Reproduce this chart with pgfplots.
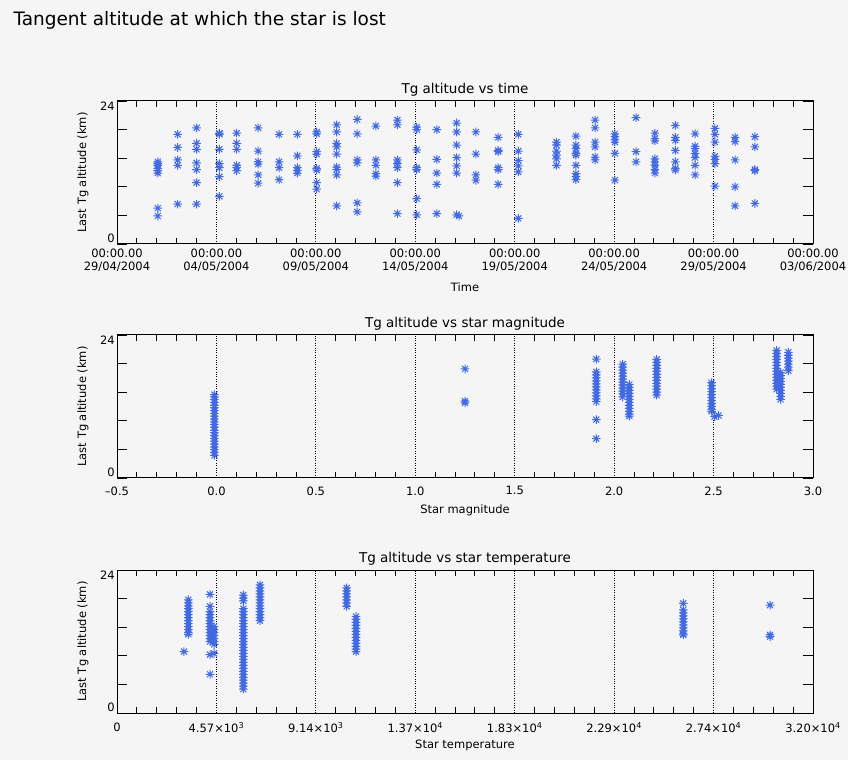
\documentclass[border=0pt]{standalone}
\usepackage{pgfplots}
\pgfplotsset{compat=1.18}
\usepackage{fontspec}
\setmainfont{DejaVu Sans}

\definecolor{idlblue}{RGB}{65,105,225}
\definecolor{bg}{RGB}{245,245,245}

% 8-armed asterisk like IDL psym=2
\pgfdeclareplotmark{ast8}{%
  \pgfpathmoveto{\pgfqpoint{-\pgfplotmarksize}{0pt}}%
  \pgfpathlineto{\pgfqpoint{\pgfplotmarksize}{0pt}}%
  \pgfpathmoveto{\pgfqpoint{0pt}{-\pgfplotmarksize}}%
  \pgfpathlineto{\pgfqpoint{0pt}{\pgfplotmarksize}}%
  \pgfpathmoveto{\pgfqpoint{-.7\pgfplotmarksize}{-.7\pgfplotmarksize}}%
  \pgfpathlineto{\pgfqpoint{.7\pgfplotmarksize}{.7\pgfplotmarksize}}%
  \pgfpathmoveto{\pgfqpoint{-.7\pgfplotmarksize}{.7\pgfplotmarksize}}%
  \pgfpathlineto{\pgfqpoint{.7\pgfplotmarksize}{-.7\pgfplotmarksize}}%
  \pgfusepathqstroke}

\pgfplotsset{
  panel/.style={
    scale only axis, width=696pt, height=143pt,
    anchor=south west,
    ymin=0, ymax=24,
    ytick={0,4.8,9.6,14.4,19.2},
    yticklabels={0,{},{},{},{}},
    extra y ticks={24},
    extra y tick labels={24},
    extra y tick style={yticklabel style={anchor=north east}},
    axis line style={line width=1pt},
    tick style={black, line width=0.9pt},
    major tick length=10pt, minor tick length=6pt,
    major x tick style={draw=none},
    minor x tick num=4,
    xmajorgrids=true,
    major grid style={black, line width=0.8pt, dash pattern=on 0.8pt off 1.6pt},
    scaled x ticks=false,
    tick label style={font=\fontsize{11.5}{13}\selectfont},
    every axis title/.style={font=\fontsize{13.5}{15}\selectfont, at={(axis description cs:0.5,1)}, anchor=center, yshift=11pt},
    every axis y label/.style={at={(axis description cs:0,0.5)}, xshift=-34pt, rotate=90, anchor=center, font=\fontsize{11.5}{13}\selectfont},
    xticklabel style={align=center, yshift=-1pt},
    yticklabel style={anchor=south east, inner sep=1pt, xshift=-1pt},
  },
  xlab/.style={every axis x label/.style={at={(axis description cs:0.5,0)}, anchor=center, yshift=-#1, font=\fontsize{11.5}{13}\selectfont}},
  pts/.style={only marks, mark=ast8, mark size=4.3pt, idlblue, line width=1pt},
}

\begin{document}
\begin{tikzpicture}
\fill[bg] (0pt,0pt) rectangle (848pt,760pt);
\path[use as bounding box] (0pt,0pt) rectangle (848pt,760pt);
\node[anchor=west, font=\fontsize{18.5}{21}\selectfont] at (10pt,740pt) {Tangent altitude at which the star is lost};

% ---- time panel (x = days since 29/04/2004)
\begin{axis}[panel, at={(117pt,516pt)}, xlab=43pt,
  xmin=0, xmax=35, xtick={0,5,...,35},
  xticklabels={00:00.00\\29/04/2004, 00:00.00\\04/05/2004, 00:00.00\\09/05/2004, 00:00.00\\14/05/2004,
               00:00.00\\19/05/2004, 00:00.00\\24/05/2004, 00:00.00\\29/05/2004, 00:00.00\\03/06/2004},
  title={Tg altitude vs time},
  xlabel={Time}, ylabel={Last Tg altitude (km)},
]
\addplot[pts] coordinates {
 (2.05,13.8) (2.05,13.2) (2.05,12.7) (2.05,11.9) (2.05,6.0) (2.05,4.7) (2.05,13.5) (2.05,12.3)
 (3.05,18.4) (3.05,16.2) (3.05,14.1) (3.05,13.2) (3.05,6.7)
 (4.0,19.5) (4.0,16.9) (4.0,15.9) (4.0,13.6) (4.0,12.5) (4.0,10.3) (4.0,6.7)
 (5.15,18.6) (5.15,18.4) (5.15,15.9) (5.15,13.5) (5.15,12.8) (5.15,11.3) (5.15,8.0)
 (6.02,18.6) (6.02,16.9) (6.02,15.9) (6.02,13.2) (6.02,12.8) (6.02,12.3)
 (7.1,19.5) (7.1,15.6) (7.1,13.8) (7.1,13.4) (7.1,11.6) (7.1,10.2)
 (8.15,18.4) (8.15,13.8) (8.15,12.8) (8.15,10.8)
 (9.07,18.4) (9.07,14.8) (9.07,12.8) (9.07,12.3) (9.07,11.9)
 (10.04,18.8) (10.04,18.5) (10.04,15.5) (10.04,15.1) (10.04,12.7) (10.04,12.4) (10.04,10.3) (10.04,9.2)
 (11.05,20.0) (11.05,18.8) (11.05,16.9) (11.05,16.3) (11.05,15.1) (11.05,12.9) (11.05,12.5) (11.05,11.6) (11.05,6.4)
 (12.08,20.9) (12.08,18.5) (12.08,14.1) (12.08,13.6) (12.08,6.9) (12.08,5.4)
 (13.02,19.8) (13.02,14.1) (13.02,13.2) (13.02,11.8) (13.02,11.4)
 (14.1,20.8) (14.1,20.0) (14.1,14.1) (14.1,13.5) (14.1,12.8) (14.1,10.3) (14.1,5.1)
 (15.07,19.6) (15.07,19.2) (15.07,15.8) (15.07,12.8) (15.07,12.5) (15.07,7.6) (15.07,4.9)
 (16.08,19.2) (16.08,14.2) (16.08,11.9) (16.08,10.0) (16.08,5.1)
 (17.08,20.3) (17.08,18.8) (17.08,16.6) (17.08,14.5) (17.08,13.1) (17.08,11.9) (17.08,4.9) (17.2,4.7)
 (18.05,18.8) (18.05,15.1) (18.05,11.6) (18.05,10.7)
 (19.17,17.9) (19.17,15.7) (19.17,15.5) (19.17,12.8) (19.17,12.5) (19.17,10.0)
 (20.18,18.4) (20.18,15.6) (20.18,14.0) (20.18,13.1) (20.18,12.1) (20.18,4.3)
 (22.1,17.1) (22.1,16.6) (22.1,15.6) (22.1,14.9) (22.1,14.3) (22.1,13.2)
 (23.08,18.1) (23.08,16.6) (23.08,16.0) (23.08,15.2) (23.08,14.9) (23.08,13.2) (23.08,11.8) (23.08,11.3) (23.08,10.8)
 (24.04,20.8) (24.04,19.5) (24.04,17.1) (24.04,16.3) (24.04,14.6) (24.04,14.1)
 (25.04,18.5) (25.04,18.0) (25.04,17.5) (25.04,17.1) (25.04,15.2) (25.04,10.7)
 (26.1,21.2) (26.1,15.5) (26.1,13.8)
 (27.05,18.6) (27.05,17.7) (27.05,17.3) (27.05,14.3) (27.05,13.8) (27.05,13.2) (27.05,12.5) (27.05,11.9)
 (28.08,19.9) (28.08,17.9) (28.08,17.4) (28.08,15.7) (28.08,13.8) (28.08,12.7) (28.08,12.4)
 (29.07,18.5) (29.07,16.4) (29.07,16.0) (29.07,15.2) (29.07,14.5) (29.07,13.2) (29.07,11.6)
 (30.07,19.4) (30.07,18.4) (30.07,17.1) (30.07,14.7) (30.07,14.2) (30.07,13.5) (30.07,9.7)
 (31.08,17.9) (31.08,17.2) (31.08,14.1) (31.08,9.6) (31.08,6.4)
 (32.08,18.0) (32.08,16.3) (32.08,12.5) (32.08,12.3) (32.08,6.8)
};
\end{axis}

% ---- magnitude panel
\begin{axis}[panel, at={(117pt,282pt)}, xlab=32pt,
  xmin=-0.5, xmax=3, xtick={-0.5,0,0.5,1,1.5,2,2.5,3},
  xticklabels={–0.5,0.0,0.5,1.0,1.5,2.0,2.5,3.0},
  xticklabel style={yshift=-4pt},
  title={Tg altitude vs star magnitude},
  xlabel={Star magnitude}, ylabel={Last Tg altitude (km)},
]
\addplot[pts] coordinates {
 (-0.01,3.8) (-0.01,4.3) (-0.01,4.8) (-0.01,5.2) (-0.01,5.7) (-0.01,6.2) (-0.01,6.6) (-0.01,7.1)
 (-0.01,7.6) (-0.01,8.0) (-0.01,8.5) (-0.01,9.0) (-0.01,9.4) (-0.01,9.9) (-0.01,10.4) (-0.01,10.8)
 (-0.01,11.3) (-0.01,11.8) (-0.01,12.2) (-0.01,12.7) (-0.01,13.2) (-0.01,13.6) (-0.01,14.0)
 (1.25,18.3) (1.25,12.9) (1.25,12.6)
 (1.91,19.95) (1.91,17.8) (1.91,17.3) (1.91,16.8) (1.91,16.3) (1.91,15.8) (1.91,15.3) (1.91,14.8)
 (1.91,14.3) (1.91,13.8) (1.91,13.3) (1.91,12.8) (1.91,9.8) (1.91,6.6)
 (2.043,19.1) (2.043,18.6) (2.043,18.1) (2.043,17.6) (2.043,17.1) (2.043,16.6) (2.043,16.1)
 (2.043,15.6) (2.043,15.1) (2.043,14.6) (2.043,14.1) (2.043,13.6)
 (2.076,15.7) (2.076,15.2) (2.076,14.7) (2.076,14.2) (2.076,13.7) (2.076,13.2) (2.076,12.7)
 (2.076,12.2) (2.076,11.7) (2.076,11.2) (2.076,10.7) (2.076,10.4)
 (2.214,19.9) (2.214,19.4) (2.214,18.9) (2.214,18.4) (2.214,17.9) (2.214,17.4) (2.214,16.9)
 (2.214,16.4) (2.214,15.9) (2.214,15.4) (2.214,14.9) (2.214,14.4) (2.214,13.9)
 (2.49,16.0) (2.49,15.5) (2.49,15.0) (2.49,14.5) (2.49,14.0) (2.49,13.5) (2.49,13.0) (2.49,12.5)
 (2.49,12.0) (2.49,11.5) (2.49,11.2) (2.505,10.3) (2.525,10.5)
 (2.817,21.4) (2.817,20.9) (2.817,20.4) (2.817,19.9) (2.817,19.4) (2.817,18.9) (2.817,18.4)
 (2.817,17.9) (2.817,17.4) (2.817,16.9) (2.817,16.4) (2.817,15.9) (2.817,15.4) (2.817,14.9)
 (2.837,17.7) (2.837,17.2) (2.837,16.7) (2.837,16.2) (2.837,15.7) (2.837,15.2) (2.837,14.7)
 (2.837,14.2) (2.837,13.7) (2.837,13.2)
 (2.876,21.1) (2.876,20.6) (2.876,20.1) (2.876,19.6) (2.876,19.1) (2.876,18.6) (2.876,18.0)
};
\end{axis}

% ---- temperature panel
\begin{axis}[panel, at={(117pt,47pt)}, xlab=32pt,
  xmin=0, xmax=32000,
  xtick={0,4571.43,9142.86,13714.29,18285.71,22857.14,27428.57,32000},
  xticklabels={0, 4.57×10\textsuperscript{3}, 9.14×10\textsuperscript{3}, 1.37×10\textsuperscript{4},
               1.83×10\textsuperscript{4}, 2.29×10\textsuperscript{4}, 2.74×10\textsuperscript{4}, 3.20×10\textsuperscript{4}},
  xticklabel style={yshift=-5pt},
  title={Tg altitude vs star temperature},
  xlabel={Star temperature}, ylabel={Last Tg altitude (km)},
]
\addplot[pts] coordinates {
 (3080,10.3)
 (3280,19.0) (3280,18.5) (3280,18.0) (3280,17.5) (3280,17.0) (3280,16.5) (3280,16.0) (3280,15.5)
 (3280,15.0) (3280,14.5) (3280,14.0) (3280,13.5) (3280,13.2)
 (4276,19.9) (4276,17.9) (4276,17.0) (4276,16.5) (4276,16.0) (4276,15.5) (4276,15.0) (4276,14.5)
 (4276,14.0) (4276,13.5) (4276,13.0) (4276,12.5) (4276,12.0) (4276,9.8) (4276,6.5)
 (4460,14.5) (4460,14.0) (4460,13.5) (4460,13.0) (4460,12.5) (4460,12.0) (4460,11.5) (4460,10.0)
 (5808,19.8) (5808,19.3) (5808,18.8) (5808,17.5) (5808,17.0) (5808,16.5) (5808,16.0) (5808,15.5)
 (5808,15.0) (5808,14.5) (5808,14.0) (5808,13.5) (5808,13.0) (5808,12.5) (5808,12.0) (5808,11.5)
 (5808,11.0) (5808,10.5) (5808,10.0) (5808,9.5) (5808,9.0) (5808,8.5) (5808,8.0) (5808,7.5)
 (5808,7.0) (5808,6.5) (5808,6.0) (5808,5.5) (5808,5.0) (5808,4.5) (5808,4.0)
 (6575,21.5) (6575,21.0) (6575,20.5) (6575,20.0) (6575,19.5) (6575,19.0) (6575,18.5) (6575,18.0)
 (6575,17.5) (6575,17.0) (6575,16.5) (6575,16.0) (6575,15.5)
 (10560,21.0) (10560,20.5) (10560,20.0) (10560,19.5) (10560,19.0) (10560,18.5) (10560,17.9)
 (10989,16.2) (10989,15.7) (10989,15.2) (10989,14.7) (10989,14.2) (10989,13.7) (10989,13.2)
 (10989,12.7) (10989,12.2) (10989,11.7) (10989,11.2) (10989,10.7) (10989,10.3)
 (26037,18.4) (26037,17.3) (26037,16.8) (26037,16.3) (26037,15.8) (26037,15.3) (26037,14.8)
 (26037,14.3) (26037,13.8) (26037,13.3) (26037,13.1)
 (30023,18.1) (30023,12.8) (30023,13.1)
};
\end{axis}
\end{tikzpicture}
\end{document}
